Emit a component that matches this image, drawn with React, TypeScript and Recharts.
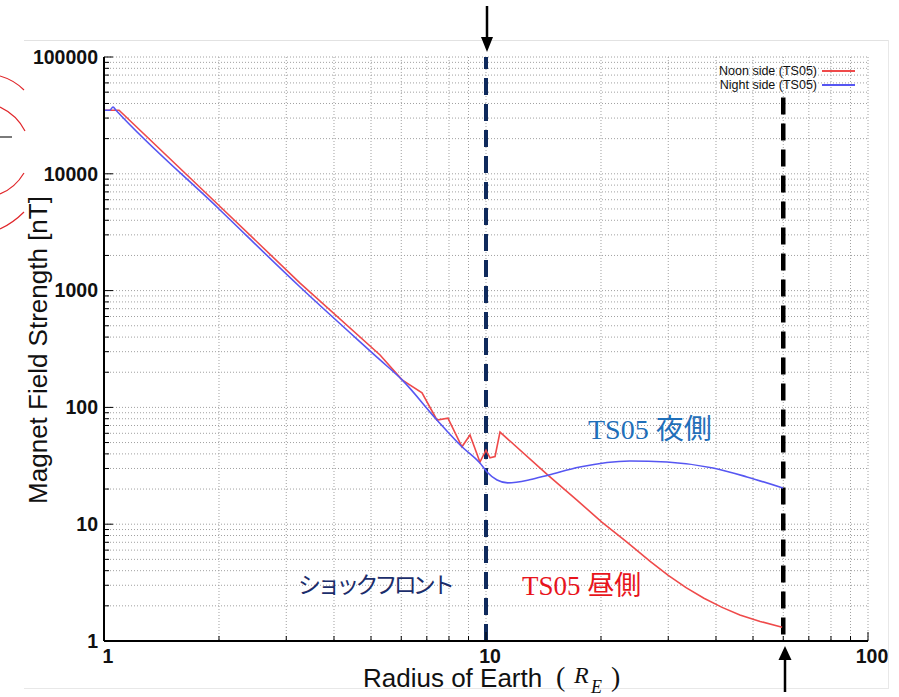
import React from 'react';
import { LineChart, Line, XAxis, YAxis, CartesianGrid, ReferenceLine, Legend } from 'recharts';

// ---- data ----
const noonRadius = [1, 1.095, 2.0, 3.26, 5.28, 6.03, 6.8, 7.44, 7.95, 8.65, 9.08, 9.64, 10.0, 10.24, 10.56, 10.88, 14.5, 17.3, 20.1, 23.3, 26.9, 30.0, 33.4, 37.2, 41.5, 46.2, 52.2, 59.6];
const noonField = [35000, 35000, 5350, 1160, 281, 172, 133, 78, 81, 46, 58, 34, 43, 37, 38, 61.5, 26.4, 16.1, 10.4, 7.08, 4.8, 3.64, 2.86, 2.32, 1.94, 1.67, 1.47, 1.31];

const nightRadius = [1, 1.035, 1.056, 1.075, 2.0, 3.26, 5.28, 6.03, 7.44, 8.65, 9.64, 10.06, 10.69, 11.4, 13.0, 14.6, 17.6, 23.8, 29.8, 39.3, 48.2, 59.9];
const nightField = [35000, 35000, 37300, 35000, 5000, 1074, 255, 172, 78, 46, 33.4, 28, 23.9, 22.6, 24.0, 26.4, 30.9, 34.8, 34.1, 30.3, 25.4, 20.4];

const xTicks = [1, 2, 3, 4, 5, 6, 7, 8, 9, 10, 20, 30, 40, 50, 60, 70, 80, 90, 100];
const yTicks = [
  1, 2, 3, 4, 5, 6, 7, 8, 9,
  10, 20, 30, 40, 50, 60, 70, 80, 90,
  100, 200, 300, 400, 500, 600, 700, 800, 900,
  1000, 2000, 3000, 4000, 5000, 6000, 7000, 8000, 9000,
  10000, 20000, 30000, 40000, 50000, 60000, 70000, 80000, 90000,
  100000,
];
const xMajor = [1, 10, 100];
const yMajor = [1, 10, 100, 1000, 10000, 100000];

const shockFrontRadius = 10;
const boundaryRadius = 60;
const boundaryTop = 45000;

const seriesNames = ['Noon side (TS05)', 'Night side (TS05)'];
const seriesColors = ['#ef4a4a', '#5656f2'];

const noonData = noonRadius.map((x, i) => ({ x, y: noonField[i] }));
const nightData = nightRadius.map((x, i) => ({ x, y: nightField[i] }));

const SANS = '"Liberation Sans", Arial, sans-serif';
const SERIF = '"Liberation Serif", "Times New Roman", serif';
const CJK = '"Noto Sans CJK JP", sans-serif';

const LeftTick = (props: any) => {
  const { x, y, payload } = props;
  const v = payload.value;
  const major = yMajor.includes(v);
  return (
    <g>
      <line x1={x} x2={x + (major ? 9 : 5)} y1={y} y2={y} stroke="#000" strokeWidth={1} />
      {major && (
        <text x={x - 6} y={y} dy="0.35em" textAnchor="end" fontFamily={SANS} fontWeight="bold" fontSize={19.5} fill="#111">
          {v}
        </text>
      )}
    </g>
  );
};

const RightTick = (props: any) => {
  const { x, y, payload } = props;
  const major = yMajor.includes(payload.value);
  return <line x1={x} x2={x - (major ? 9 : 5)} y1={y} y2={y} stroke="#000" strokeWidth={1} />;
};

const BottomTick = (props: any) => {
  const { x, y, payload } = props;
  const v = payload.value;
  const major = xMajor.includes(v);
  return (
    <g>
      <line x1={x} x2={x} y1={y} y2={y - (major ? 9 : 5)} stroke="#000" strokeWidth={1} />
      {major && (
        <text x={x + 4} y={y + 22} textAnchor="middle" fontFamily={SANS} fontWeight="bold" fontSize={19.5} fill="#111">
          {v}
        </text>
      )}
    </g>
  );
};

const TopTick = (props: any) => {
  const { x, y, payload } = props;
  const major = xMajor.includes(payload.value);
  return <line x1={x} x2={x} y1={y} y2={y + (major ? 9 : 5)} stroke="#000" strokeWidth={1} />;
};

const LegendBox = () => (
  <svg width={165} height={34} style={{ display: 'block' }}>
    {seriesNames.map((name, i) => (
      <g key={name}>
        <text x={117} y={9 + i * 14} dy="0.35em" textAnchor="end" fontFamily={SANS} fontSize={12.5} fill="#111">
          {name}
        </text>
        <line x1={122} x2={155} y1={9 + i * 14} y2={9 + i * 14} stroke={seriesColors[i]} strokeWidth={2} />
      </g>
    ))}
  </svg>
);

export default function App() {
  return (
    <div style={{ position: 'absolute', left: 0, top: 0, width: 899, height: 697, background: '#fff' }}>
      <LineChart width={899} height={697} margin={{ top: 57, right: 31, bottom: 36, left: 0 }}>
        <CartesianGrid stroke="#a0a0a0" strokeDasharray="1 2" strokeWidth={1} />
        <XAxis
          dataKey="x"
          type="number"
          scale="log"
          domain={[1, 100]}
          allowDataOverflow
          ticks={xTicks}
          interval={0}
          tickSize={0}
          tickMargin={0}
          tickLine={false}
          height={20}
          axisLine={{ stroke: '#000', strokeWidth: 2 }}
          tick={<BottomTick />}
        />
        <XAxis
          xAxisId="top"
          orientation="top"
          dataKey="x"
          type="number"
          scale="log"
          domain={[1, 100]}
          allowDataOverflow
          ticks={xTicks}
          interval={0}
          tickSize={0}
          tickMargin={0}
          tickLine={false}
          height={0}
          axisLine={{ stroke: '#000', strokeWidth: 2 }}
          tick={<TopTick />}
        />
        <YAxis
          type="number"
          scale="log"
          domain={[1, 100000]}
          allowDataOverflow
          ticks={yTicks}
          interval={0}
          tickSize={0}
          tickMargin={0}
          tickLine={false}
          width={104}
          axisLine={{ stroke: '#000', strokeWidth: 2 }}
          tick={<LeftTick />}
        />
        <YAxis
          yAxisId="right"
          orientation="right"
          type="number"
          scale="log"
          domain={[1, 100000]}
          allowDataOverflow
          ticks={yTicks}
          interval={0}
          tickSize={0}
          tickMargin={0}
          tickLine={false}
          width={0}
          axisLine={{ stroke: '#000', strokeWidth: 2 }}
          tick={<RightTick />}
        />
        <ReferenceLine x={shockFrontRadius} stroke="#0f2a5c" strokeWidth={4} strokeDasharray="17 9" />
        <ReferenceLine
          segment={[{ x: boundaryRadius, y: boundaryTop }, { x: boundaryRadius, y: 1 }]}
          stroke="#000"
          strokeWidth={4.5}
          strokeDasharray="17 9"
        />
        <Line
          data={noonData}
          dataKey="y"
          name={seriesNames[0]}
          type="linear"
          stroke={seriesColors[0]}
          strokeWidth={1.6}
          dot={false}
          isAnimationActive={false}
        />
        <Line
          data={nightData}
          dataKey="y"
          name={seriesNames[1]}
          type="monotone"
          stroke={seriesColors[1]}
          strokeWidth={1.6}
          dot={false}
          isAnimationActive={false}
        />
        <Legend
          layout="vertical"
          align="center"
          verticalAlign="middle"
          wrapperStyle={{ position: 'absolute', top: 62, left: 700, width: 165, height: 34 }}
          content={() => <LegendBox />}
        />
      </LineChart>
      <svg
        width={899}
        height={697}
        style={{ position: 'absolute', left: 0, top: 0, pointerEvents: 'none' }}
      >
        {/* slide frame */}
        <line x1={24} x2={888} y1={40.5} y2={40.5} stroke="#e2e2e2" strokeWidth={1} />
        <line x1={888.5} x2={888.5} y1={40} y2={689} stroke="#e8e8e8" strokeWidth={1} />
        <line x1={24} x2={888} y1={688.5} y2={688.5} stroke="#e8e8e8" strokeWidth={1} />
        {/* decorative red arcs on the left */}
        <g fill="none" stroke="#e0262a" strokeWidth={1.2}>
          <path d="M0,76 Q14,80 24,90" />
          <path d="M0,107 Q17,115 25,131" />
          <path d="M24,173 Q15,188 0,194" />
          <path d="M24,212 Q13,223 0,229" />
        </g>
        <line x1={0} x2={12} y1={137} y2={137} stroke="#222" strokeWidth={1.2} />
        {/* arrows */}
        <line x1={487} x2={487} y1={6} y2={40} stroke="#000" strokeWidth={2.5} />
        <path d="M481,37 L493,37 L487,52 Z" fill="#000" />
        <line x1={785} x2={785} y1={692} y2={656} stroke="#000" strokeWidth={2.5} />
        <path d="M778.5,660 L791.5,660 L785,646 Z" fill="#000" />
        {/* axis titles */}
        <text
          transform="translate(47,350) rotate(-90)"
          textAnchor="middle"
          fontFamily={SANS}
          fontSize={26}
          fill="#111"
        >
          Magnet Field Strength [nT]
        </text>
        <text x={363} y={687} fontFamily={SANS} fontSize={26} fill="#111">Radius of Earth</text>
        <text x={556} y={686} fontFamily={SERIF} fontSize={28} fill="#111">(</text>
        <text x={574} y={683} fontFamily={SERIF} fontStyle="italic" fontSize={24} fill="#111">R</text>
        <text x={591} y={693} fontFamily={SERIF} fontStyle="italic" fontSize={18} fill="#111">E</text>
        <text x={611} y={686} fontFamily={SERIF} fontSize={28} fill="#111">)</text>
        {/* annotations */}
        <text x={588} y={439} fontSize={28} fill="#1f6fb9">
          <tspan fontFamily={SERIF}>TS05 </tspan>
          <tspan fontFamily={CJK}>夜側</tspan>
        </text>
        <text x={522} y={595} fontSize={27} fill="#e8141c">
          <tspan fontFamily={SERIF}>TS05 </tspan>
          <tspan fontFamily={CJK}>昼側</tspan>
        </text>
        <text x={298} y={593} fontFamily={CJK} fontSize={23} fill="#1b2d6b" textLength={157} lengthAdjust="spacing">
          ショックフロント
        </text>
      </svg>
    </div>
  );
}
